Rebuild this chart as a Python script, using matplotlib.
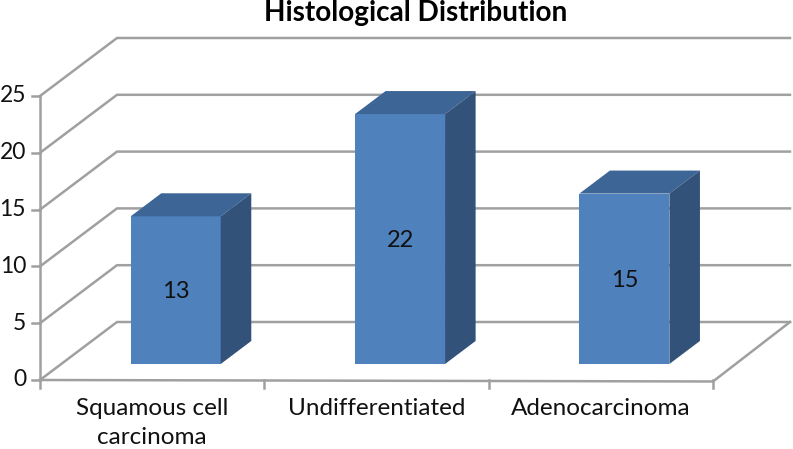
import matplotlib
matplotlib.use('Agg')
import matplotlib.pyplot as plt
from matplotlib.patches import Polygon

plt.rcParams['font.family'] = ['Lato', 'DejaVu Sans']

# Chart data
categories = ['Squamous cell\ncarcinoma', 'Undifferentiated', 'Adenocarcinoma']
values = [13, 22, 15]
y_ticks = [0, 5, 10, 15, 20, 25]

# Pixel frame of the front plane
W, H = 793, 449
X0, X1 = 40, 713
Y0, Y25 = 380, 96
per_cat = (X1 - X0) / 3
per_val = (Y0 - Y25) / 25

# Oblique depth, in data units for a depth of 1
sx = 77 / per_cat
sy = 58 / per_val

fig = plt.figure(figsize=(W / 100, H / 100), dpi=100)
ax = fig.add_axes([0, 0, 1, 1])
ax.set_xlim(-X0 / per_cat, (W - X0) / per_cat)
ax.set_ylim(-(H - Y0) / per_val, Y0 / per_val)
ax.axis('off')

grid_col = '#a0a0a0'
txt_col = '#111111'
lw = 1.8

# Gridlines on the side wall and back wall
for v in y_ticks:
    ax.plot([0, sx, 3 + sx], [v, v + sy, v + sy], color=grid_col, lw=lw, solid_joinstyle='miter')
    ax.plot([-8 / per_cat, 0], [v, v], color=grid_col, lw=lw)
    ax.text(-14 / per_cat, v, str(v), ha='right', va='center', fontsize=16.5, color=txt_col)

# Axis lines and floor edge
ax.plot([0, 0], [0, 25], color=grid_col, lw=lw)
ax.plot([0, 3], [0, -0.13], color=grid_col, lw=lw)
ax.plot([3, 3 + sx], [-0.13, sy], color=grid_col, lw=lw)
for i in range(4):
    ax.plot([i, i], [0, -8 / per_val], color=grid_col, lw=lw)

# Bars
bar_w = 90 / per_cat
front = 0.276
depth = 0.397
front_col = '#4f81bd'
top_col = '#3d6696'
side_col = '#325279'
for i, val in enumerate(values):
    xl = i + 0.5 - bar_w / 2 + front * sx + 2.3 / per_cat
    xr = xl + bar_w
    yb = front * sy
    yt = yb + val
    dx = depth * sx
    dy = depth * sy
    ax.add_patch(Polygon([(xl, yb), (xr, yb), (xr, yt), (xl, yt)], fc=front_col, ec='none', zorder=3))
    ax.add_patch(Polygon([(xl, yt), (xr, yt), (xr + dx, yt + dy), (xl + dx, yt + dy)], fc=top_col, ec='none', zorder=3))
    ax.add_patch(Polygon([(xr, yb), (xr + dx, yb + dy), (xr + dx, yt + dy), (xr, yt)], fc=side_col, ec='none', zorder=3))
    ax.text((xl + xr) / 2, yb + val / 2 - 1.5 / per_val, str(val), ha='center', va='center', fontsize=17, color=txt_col, zorder=4)

# Category labels
for i, cat in enumerate(categories):
    ax.text(i + 0.5, -18 / per_val, cat, ha='center', va='top', fontsize=17.5, color=txt_col, linespacing=1.45)

# Title
ax.text((415.5 - X0) / per_cat, (Y0 - 21.5) / per_val, 'Histological Distribution', ha='center', va='baseline',
        fontsize=20.2, fontweight='bold', color='black')

fig.savefig('out.png', dpi=100)
